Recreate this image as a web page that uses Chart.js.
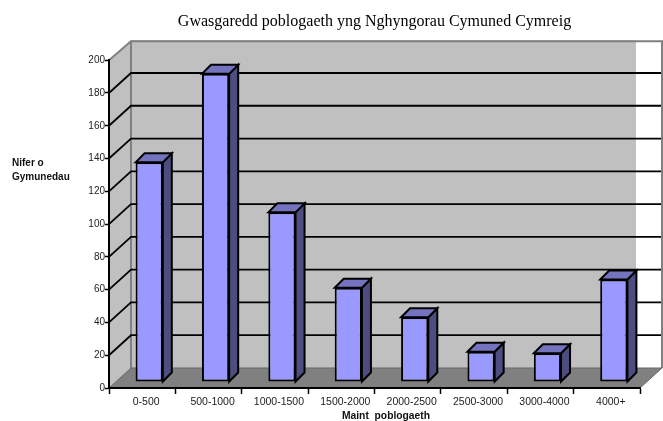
<!DOCTYPE html>
<html><head><meta charset="utf-8">
<style>html,body{margin:0;padding:0;background:#fff}#w{width:663px;height:421px;position:relative}</style>
<script src="https://cdn.jsdelivr.net/npm/chart.js@4"></script></head>
<body><div id="w"><canvas id="c" width="663" height="421"></canvas></div>
<script>
const categories = ['0-500','500-1000','1000-1500','1500-2000','2000-2500','2500-3000','3000-4000','4000+'];
const communities = [134,188,103.5,57.5,39.5,18.5,17.5,62.5];
const yTicks = [0,20,40,60,80,100,120,140,160,180,200];
const titleText = 'Gwasgaredd poblogaeth yng Nghyngorau Cymuned Cymreig';
const yTitleLines = ['Nifer o','Gymunedau'];
const xTitleText = 'Maint  poblogaeth';

const DX=22, DY=20, BX=7, BY=6, FX=9, FY=9;
const scene = {
  id:'scene',
  beforeDraw(ch){
    const {ctx,scales:{x,y}}=ch, L=x.left,R=x.right,B=y.bottom,T=y.top;
    ctx.save();
    ctx.fillStyle='#C0C0C0';
    ctx.fillRect(L+DX,T-DY,R-4-L-DX,B-T);
    ctx.beginPath();ctx.moveTo(L,B);ctx.lineTo(L,T);ctx.lineTo(L+DX,T-DY);ctx.lineTo(L+DX,B-DY);ctx.closePath();ctx.fill();
    ctx.fillStyle='#808080';
    ctx.beginPath();ctx.moveTo(L,B);ctx.lineTo(L+DX,B-DY);ctx.lineTo(R+DX,B-DY);ctx.lineTo(R,B);ctx.closePath();ctx.fill();
    ctx.strokeStyle='#808080';ctx.lineWidth=2;
    ctx.beginPath();ctx.moveTo(L,T);ctx.lineTo(L+DX,T-DY+1);ctx.lineTo(R+DX,T-DY+1);ctx.lineTo(R+DX,B-DY);
    ctx.moveTo(L+DX,T-DY+1);ctx.lineTo(L+DX,B-DY);ctx.stroke();
    ctx.strokeStyle='#666';ctx.lineWidth=1;
    ctx.beginPath();ctx.moveTo(L,B);ctx.lineTo(L+DX,B-DY);ctx.lineTo(R+DX,B-DY);ctx.lineTo(R,B);ctx.stroke();
    ctx.strokeStyle='#000';ctx.lineWidth=1.8;
    yTicks.forEach(v=>{ if(v===0||v===200) return;
      const p=y.getPixelForValue(v);
      ctx.beginPath();ctx.moveTo(L,p);ctx.lineTo(L+DX,p-DY);ctx.lineTo(R+DX-1,p-DY);ctx.stroke();
    });
    ctx.font='bold 10px "Liberation Sans"';ctx.fillStyle='#111';ctx.textAlign='left';ctx.textBaseline='middle';
    yTitleLines.forEach((s,i)=>ctx.fillText(s,12,163+i*14));
    ctx.textAlign='center';ctx.font='bold 10.3px "Liberation Sans"';
    ctx.fillText(xTitleText,386,416.5);
    ctx.restore();
  },
  beforeDatasetDraw(ch,args){
    const {ctx}=ch, els=ch.getDatasetMeta(args.index).data;
    ctx.save();ctx.translate(BX,-BY);
    ctx.lineWidth=2;ctx.strokeStyle='#000';ctx.lineJoin='miter';
    els.forEach(e=>{
      const l=e.x-e.width/2,r=e.x+e.width/2,t=e.y,b=e.base;
      ctx.fillStyle='#4D4D80';
      ctx.beginPath();ctx.moveTo(r,t);ctx.lineTo(r+FX,t-FY);ctx.lineTo(r+FX,b-FY);ctx.lineTo(r,b);ctx.closePath();ctx.fill();ctx.stroke();
      ctx.fillStyle='#7373BF';
      ctx.beginPath();ctx.moveTo(l,t);ctx.lineTo(l+FX,t-FY);ctx.lineTo(r+FX,t-FY);ctx.lineTo(r,t);ctx.closePath();ctx.fill();ctx.stroke();
    });
  },
  afterDatasetDraw(ch){ch.ctx.restore();}
};
new Chart(document.getElementById('c'),{
  type:'bar',
  data:{labels:categories,datasets:[{data:communities,backgroundColor:'#9999FF',borderColor:'#000',borderWidth:2,barPercentage:0.41,categoryPercentage:1,borderSkipped:false}]},
  plugins:[scene],
  options:{
    responsive:false,animation:false,
    layout:{padding:{left:0,right:23,top:0,bottom:0}},
    plugins:{
      legend:{display:false},tooltip:{enabled:false},
      title:{display:true,fullSize:false,text:titleText,color:'#000',font:{family:'"Liberation Serif"',size:16,weight:'normal'},padding:{top:12,bottom:29}}
    },
    scales:{
      x:{grid:{display:true,drawOnChartArea:false,drawTicks:true,tickLength:6,tickColor:'#000',tickWidth:1.5},
         afterFit(s){s.height=33;},
         border:{color:'#000',width:2},
         ticks:{color:'#222',font:{family:'"Liberation Sans"',size:10.5},labelOffset:4,maxRotation:0,autoSkip:false,padding:2}},
      y:{min:0,max:200,afterBuildTicks(s){s.ticks=yTicks.map(v=>({value:v}));},
         afterFit(s){s.width=109;},
         grid:{drawOnChartArea:false,tickLength:4,tickColor:'#000',tickWidth:1.5},
         border:{color:'#000',width:2},
         ticks:{color:'#222',font:{family:'"Liberation Sans"',size:10},padding:0}}
    }
  }
});
</script></body></html>
